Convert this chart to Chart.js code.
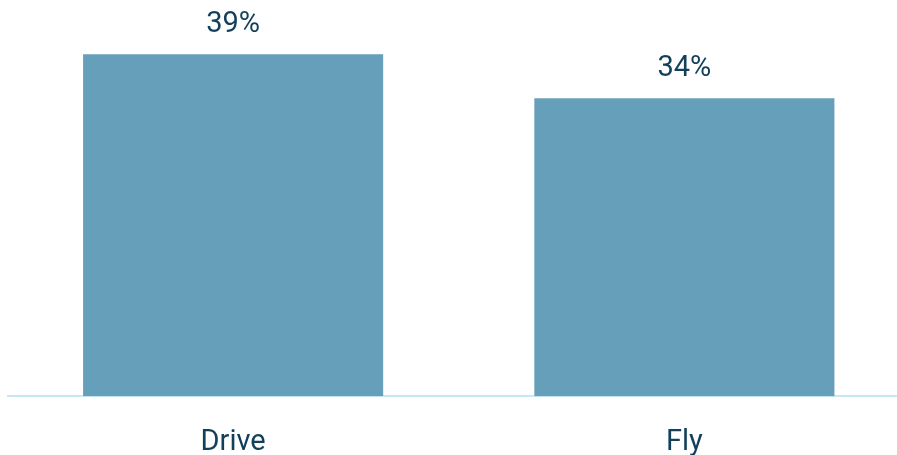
<!DOCTYPE html>
<html>
<head>
<meta charset="utf-8">
<script src="https://cdn.jsdelivr.net/npm/chart.js@4"></script>
<style>
  html, body { margin: 0; padding: 0; background: #fff; overflow: hidden; }
  #wrap { position: absolute; left: 0; top: 0; width: 910px; height: 489px; }
</style>
</head>
<body>
<div id="wrap"><canvas id="modeChart"></canvas></div>
<script>
const categories = ['Drive', 'Fly'];
const shares = [39, 34];
const valueLabels = ['39%', '34%'];

const textColor = '#123f5a';

// labels over each bar, placed from the bar element positions
const barLabels = {
    id: 'barLabels',
    afterDatasetsDraw(chart) {
        const ctx = chart.ctx;
        const meta = chart.getDatasetMeta(0);
        ctx.save();
        ctx.font = '29px Roboto';
        ctx.fillStyle = textColor;
        ctx.textAlign = 'center';
        ctx.textBaseline = 'bottom';
        meta.data.forEach((bar, i) => {
            ctx.fillText(valueLabels[i], bar.x, bar.y - 15);
        });
        ctx.restore();
    }
};

new Chart(document.getElementById('modeChart').getContext('2d'), {
    type: 'bar',
    data: {
        labels: categories,
        datasets: [{ data: shares, backgroundColor: '#669fba', barPercentage: 0.665, categoryPercentage: 1 }]
    },
    options: {
        responsive: true, maintainAspectRatio: false, animation: false,
        layout: { padding: { left: 7.5, right: 0, top: 0, bottom: 0 } },
        scales: {
            y: { display: false, min: 0, max: 45.2 },
            x: {
                grid: { display: false, drawTicks: false },
                border: { display: true, color: '#c5e9f7', width: 2 },
                ticks: { color: textColor, font: { family: 'Roboto', size: 29 }, padding: 29 }
            }
        },
        plugins: { legend: { display: false }, tooltip: { enabled: false } }
    },
    plugins: [barLabels]
});
</script>
</body>
</html>
